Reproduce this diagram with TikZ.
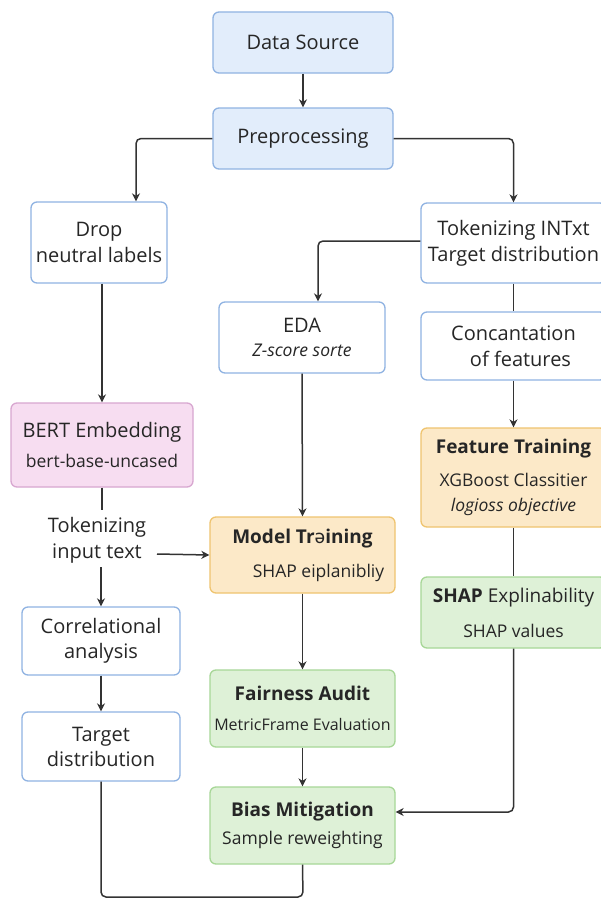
\documentclass[tikz,border=0pt]{standalone}
\usepackage{fontspec}
\setmainfont{Open Sans}
\newfontfamily\notosans{Noto Sans}
\usetikzlibrary{arrows.meta,calc}
\definecolor{bfill}{HTML}{E2EDFB}
\definecolor{bdraw}{HTML}{90B3E2}
\definecolor{pfill}{HTML}{F7DDF1}
\definecolor{pdraw}{HTML}{D8A7D0}
\definecolor{ofill}{HTML}{FCE9C8}
\definecolor{odraw}{HTML}{EFC46F}
\definecolor{gfill}{HTML}{DEF1D7}
\definecolor{gdraw}{HTML}{A7D797}
\definecolor{ink}{HTML}{262626}
\definecolor{wire}{HTML}{333333}
\newcommand\ftitle{\fontsize{20}{26}\selectfont}
\newcommand\fbold{\fontsize{19}{26}\selectfont\bfseries}
\newcommand\fsub{\fontsize{17.5}{26}\selectfont}
\begin{document}
\begin{tikzpicture}[x=1pt,y=-1pt,
  box/.style={draw, rounded corners=6pt, line width=1.3pt, align=center, text=ink, inner sep=2pt, font=\fontsize{20}{26}\selectfont},
  bluebox/.style={box, fill=bfill, draw=bdraw},
  whitebox/.style={box, fill=white, draw=bdraw},
  pinkbox/.style={box, fill=pfill, draw=pdraw},
  orangebox/.style={box, fill=ofill, draw=odraw},
  greenbox/.style={box, fill=gfill, draw=gdraw},
  wire/.style={draw=wire, line width=1.5pt, rounded corners=5pt},
  arr/.style={wire, -{Stealth[length=8pt,width=8pt,inset=2.5pt]}},
  plain/.style={align=center, text=ink, inner sep=0pt, font=\fontsize{20}{26}\selectfont}]
\useasboundingbox[fill=white] (0,0) rectangle (601,899);

\node[bluebox, minimum width=180pt, minimum height=61pt] (ds) at (303,42.5) {Data Source};
\node[bluebox, minimum width=180pt, minimum height=61pt] (pre) at (303,138.5) {Preprocessing};

\node[whitebox, minimum width=136pt, minimum height=81pt] (drop) at (99,242.5) {Drop\\neutral labels};
\node[whitebox, minimum width=185pt, minimum height=80pt] (tok) at (513.5,243) {Tokenizing INTxt\\Target distribution};

\node[whitebox, minimum width=166pt, minimum height=71pt] (eda) at (302,337.5) {EDA\\[-2pt]\fsub\itshape Z-score sorte};
\node[whitebox, minimum width=185pt, minimum height=68pt] (conc) at (513.5,346) {Concantation\\\hspace*{14pt}of features};

\node[pinkbox, minimum width=182pt, minimum height=84pt] (bert) at (102,445) {BERT Embedding\\[4pt]\fsub bert-base-uncased};
\node[orangebox, minimum width=185pt, minimum height=99pt] (feat) at (513.5,477.5) {\fbold Feature Training\\[7pt]\fsub XGBoost Classitier\\[-1pt]\fsub\itshape logioss objective};

\node[plain] (tt) at (97,540) {Tokenizing\\input text};
\coordinate (ttA) at (157,554);
\coordinate (ttTop) at (102,510);
\coordinate (ttBot) at (101,567);

\node[orangebox, minimum width=185pt, minimum height=76pt] (model) at (302.5,555) {\fbold Model Tr{\notosans ǝ}ining\\[8pt]\fsub\hspace*{32pt}SHAP eiplanibliy};
\node[greenbox, minimum width=185pt, minimum height=71pt] (shap) at (513.5,612.5) {\fontsize{19}{26}\selectfont\textbf{SHAP} Explinability\\[9pt]\fsub SHAP values};

\node[whitebox, minimum width=158pt, minimum height=68pt] (corr) at (101,641) {Correlational\\[-1pt]analysis};
\node[whitebox, minimum width=158pt, minimum height=69pt] (target) at (101,746.5) {Target\\[-1pt]distribution};

\node[greenbox, minimum width=185pt, minimum height=77pt] (fair) at (302.5,708.5) {\fbold Fairness Audit\\[4pt]\fontsize{16}{26}\selectfont MetricFrame Evaluation};
\node[greenbox, minimum width=185pt, minimum height=77pt] (bias) at (302.5,825.5) {\fbold Bias Mitigation\\[2pt]\fsub Sample reweighting};

\coordinate (loopL) at (101,897);
\coordinate (loopR) at (303,897);

% connectors
\draw[arr] (ds) -- (pre);
\draw[arr] (pre.west) -| ([xshift=37pt]drop.north);
\draw[arr] (pre.east) -| (tok.north);
\draw[arr] ([yshift=2pt]tok.west) -| ([xshift=16pt]eda.north);
\draw[wire] (tok.south) -- (conc.north);
\draw[arr] (conc.south) -- (feat.north);
\draw[wire] (feat.south) -- (shap.north);
\draw[arr] (drop.south -| bert.north) -- (bert.north);
\draw[wire] (bert.south) -- (ttTop);
\draw[arr] (ttA) -- (model.west);
\draw[arr] (ttBot) -- (corr.north);
\draw[arr] (eda.south) -- (model.north);
\draw[arr] (model.south) -- (fair.north);
\draw[arr] (fair.south) -- (bias.north);
\draw[arr] (shap.south) |- ([yshift=13.5pt]bias.east);
\draw[arr] (corr.south) -- (target.north);
\draw[wire] (target.south) -- (loopL) -- (loopR) -- (bias.south);
\end{tikzpicture}
\end{document}
